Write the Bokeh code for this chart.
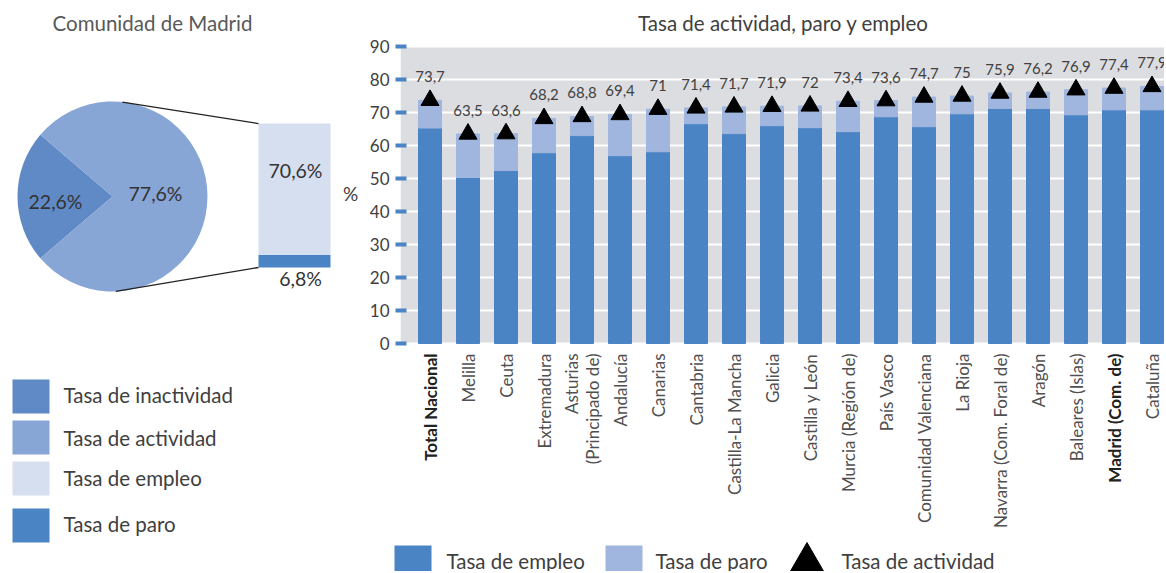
import math
from bokeh.plotting import figure
from bokeh.models import Range1d, FixedTicker, ColumnDataSource
from bokeh.layouts import row, column
from bokeh.embed import file_html
from bokeh.resources import INLINE
from bokeh.core.properties import value

# ---------------- data ----------------
regiones = ["Total Nacional", "Melilla", "Ceuta", "Extremadura", "Asturias\n(Principado de)",
            "Andalucía", "Canarias", "Cantabria", "Castilla-La Mancha", "Galicia",
            "Castilla y León", "Murcia (Región de)", "País Vasco", "Comunidad Valenciana",
            "La Rioja", "Navarra (Com. Foral de)", "Aragón", "Baleares (Islas)",
            "Madrid (Com. de)", "Cataluña"]
tasa_actividad = [73.7, 63.5, 63.6, 68.2, 68.8, 69.4, 71.0, 71.4, 71.7, 71.9,
                  72.0, 73.4, 73.6, 74.7, 75.0, 75.9, 76.2, 76.9, 77.4, 77.9]
tasa_empleo = [65.3, 50.3, 52.4, 57.8, 63.0, 56.9, 58.1, 66.6, 63.6, 66.0,
               65.4, 64.2, 68.7, 65.7, 69.6, 71.2, 71.2, 69.3, 70.8, 70.8]
tasa_paro_tramo = [8.4, 13.2, 11.2, 10.4, 5.8, 12.5, 12.9, 4.8, 8.1, 5.9,
                   6.6, 9.2, 4.9, 9.0, 5.4, 4.7, 5.0, 7.6, 6.6, 7.1]
regiones_destacadas = ["Total Nacional", "Madrid (Com. de)"]
y_ticks = [0, 10, 20, 30, 40, 50, 60, 70, 80, 90]

madrid_pie_labels = ["Tasa de inactividad", "Tasa de actividad"]
madrid_pie_values = [22.6, 77.6]
madrid_detalle_labels = ["Tasa de paro", "Tasa de empleo"]
madrid_detalle_values = [6.8, 70.6]

leyenda_izq = ["Tasa de inactividad", "Tasa de actividad", "Tasa de empleo", "Tasa de paro"]
leyenda_barras = ["Tasa de empleo", "Tasa de paro", "Tasa de actividad"]

# ---------------- style ----------------
FONT = "Lato"
C_INACT = "#5f8ac6"
C_ACT = "#87a6d5"
C_EMP_LIGHT = "#d6dff0"
C_DARK = "#4a84c4"
C_LIGHT = "#a1b6de"
C_BG = "#dcdde0"
TXT = "#404040"


def fmt(v):
    return ("%g" % v).replace(".", ",")


def plain_fig(w, h, xr, yr):
    f = figure(width=w, height=h, x_range=xr, y_range=yr,
               output_backend="svg", toolbar_location=None,
               x_axis_location=None, y_axis_location=None, min_border=0,
               outline_line_color=None)
    f.grid.visible = False
    f.frame_align = False
    return f

# ---------------- left figure: pie of Madrid ----------------
LW, LH = 360, 571
left = plain_fig(LW, LH, Range1d(0, LW), Range1d(0, LH))

cx, cy, r = 112, 375, 95
tot = sum(madrid_pie_values)
half = madrid_pie_values[0] / tot * math.pi
starts = [math.pi - half, math.pi + half]
ends = [math.pi + half, math.pi - half + 2 * math.pi]
left.wedge(x=[cx, cx], y=[cy, cy], radius=r, start_angle=starts, end_angle=ends,
           fill_color=[C_INACT, C_ACT], line_color=None)
left.text(x=[55, 155], y=[370, 378], text=[fmt(v) + "%" for v in madrid_pie_values],
          text_align="center", text_baseline="middle", text_font=value(FONT),
          text_font_size="19.5px", text_color="#333333")

# detail bar (pie of pie)
scale = 1.86
bx, bw, b0 = 294, 72, 304
bottoms = [b0, b0 + madrid_detalle_values[0] * scale]
tops = [bottoms[0] + madrid_detalle_values[0] * scale,
        bottoms[1] + madrid_detalle_values[1] * scale]
left.vbar(x=[bx, bx], width=bw, bottom=bottoms, top=tops,
          fill_color=[C_DARK, C_EMP_LIGHT], line_color=None)
left.text(x=[300, 295], y=[293, 401], text=[fmt(v) + "%" for v in madrid_detalle_values],
          text_align="center", text_baseline="middle", text_font=value(FONT),
          text_font_size="19.5px", text_color="#333333")
a1, a2 = math.radians(84), math.radians(-88)
left.segment(x0=[cx + r * math.cos(a1), cx + r * math.cos(a2)],
             y0=[cy + r * math.sin(a1), cy + r * math.sin(a2)],
             x1=[bx - bw / 2, bx - bw / 2], y1=[tops[1], b0],
             line_color="#222222", line_width=1.3)
left.text(x=[152], y=[549], text=["Comunidad de Madrid"], text_align="center",
          text_baseline="middle", text_font=value(FONT), text_font_size="20.5px",
          text_color="#595959")
# y-axis unit of the bar chart, sitting left of its tick labels
left.text(x=[350], y=[378], text=["%"], text_align="center", text_baseline="middle",
          text_font=value(FONT), text_font_size="19px", text_color=TXT)

# left legend
left.rect(x=[30.5] * 4, y=[175, 134, 93, 46], width=37, height=34,
          fill_color=[C_INACT, C_ACT, C_EMP_LIGHT, C_DARK], line_color=None)
left.text(x=[63] * 4, y=[177, 134, 94, 48], text=leyenda_izq, text_align="left",
          text_baseline="middle", text_font=value(FONT), text_font_size="20.5px",
          text_color=TXT)

# ---------------- right figure: bars ----------------
RW, RH, BL = 804, 537, 40          # figure size, left border for the y axis
X0, STEP = 429.5 - 360, 38.0        # first bar centre (px in figure), category step
Y0, PXU = 343.0, 3.3                # y of value 0 (px from top), px per unit
xr = Range1d((BL - X0) / STEP, (RW - X0) / STEP)
yr = Range1d((Y0 - RH) / PXU, Y0 / PXU)

xs = list(range(len(regiones)))
src = ColumnDataSource(dict(x=xs, empleo=tasa_empleo, paro=tasa_paro_tramo,
                            actividad=tasa_actividad,
                            lbl=[fmt(v) for v in tasa_actividad]))

p = figure(width=RW, height=RH, x_range=xr, y_range=yr,
           output_backend="svg", toolbar_location=None,
           min_border_left=BL, min_border_right=0, min_border_top=0, min_border_bottom=0,
           outline_line_color=None, x_axis_location=None)
p.frame_align = False
p.background_fill_color = "white"
p.border_fill_color = "white"
p.xgrid.visible = False
p.ygrid.ticker = FixedTicker(ticks=y_ticks)
p.ygrid.grid_line_color = "white"
p.ygrid.grid_line_width = 2

# grey plotting area 0..90 drawn beneath the grid
p.quad(left=xr.start, right=xr.end, bottom=min(y_ticks), top=max(y_ticks),
       fill_color=C_BG, line_color=None, level="image")

ya = p.yaxis[0]
ya.ticker = FixedTicker(ticks=y_ticks)
ya.axis_line_color = None
ya.major_tick_line_color = C_DARK
ya.major_tick_line_width = 4
ya.major_tick_out = 5
ya.major_tick_in = 6
ya.minor_tick_line_color = None
ya.major_label_text_font = FONT
ya.major_label_text_font_size = "17px"
ya.major_label_text_color = TXT
ya.major_label_standoff = 6

p.vbar_stack(["empleo", "paro"], x="x", width=23 / STEP, color=[C_DARK, C_LIGHT], source=src)
p.scatter(x="x", y="actividad", marker="triangle", size=18, color="black", source=src)
p.text(x="x", y="actividad", text="lbl", y_offset=-18, text_align="center",
       text_baseline="bottom", text_font=value(FONT), text_font_size="15px",
       text_color=TXT, source=src)

# category labels (rotated), two highlighted in bold
lab_y = (Y0 - 353) / PXU
for want_bold in (False, True):
    idx = [i for i, c in enumerate(regiones) if (c in regiones_destacadas) == want_bold]
    p.text(x=[xs[i] for i in idx], y=[lab_y] * len(idx), text=[regiones[i] for i in idx],
           angle=math.pi / 2, text_align="right", text_baseline="middle",
           text_font=value(FONT), text_font_size="17px",
           text_font_style="bold" if want_bold else "normal",
           text_color="#222222" if want_bold else "#505050", text_line_height=1.0)

# chart title
p.text(x=[(783 - 360 - X0) / STEP], y=[(Y0 - 22) / PXU],
       text=["Tasa de actividad, paro y empleo"], text_align="center",
       text_baseline="middle", text_font=value(FONT), text_font_size="20.5px",
       text_color="#404040")

# ---------------- bottom legend (x in page px) ----------------
GW, GH = 804, 34
lg = plain_fig(GW, GH, Range1d(360, 360 + GW), Range1d(0, GH))
lg.rect(x=[412.5, 623.5], y=[12, 12], width=37, height=28, fill_color=[C_DARK, C_LIGHT],
        line_color=None)
lg.scatter(x=[806.5], y=[7.6], marker="triangle", size=37, color="black")
lg.text(x=[446, 655, 841], y=[11, 11, 11], text=leyenda_barras, text_align="left",
        text_baseline="middle", text_font=value(FONT), text_font_size="20.5px",
        text_color=TXT)

layout = row(left, column(p, lg))
open("out.html", "w").write(file_html(layout, INLINE))
